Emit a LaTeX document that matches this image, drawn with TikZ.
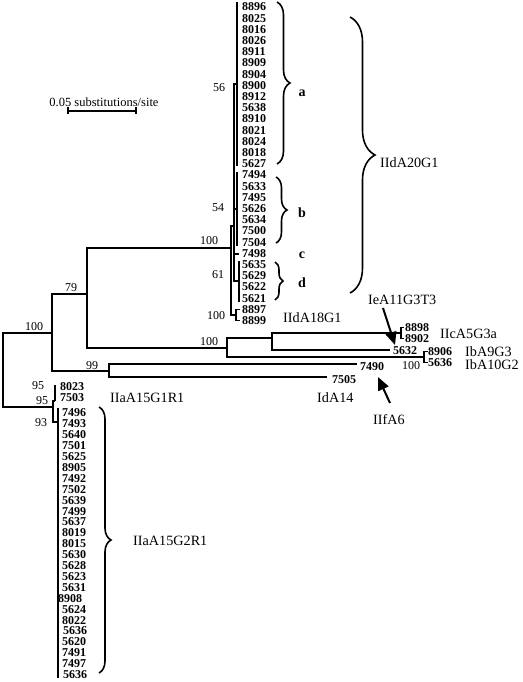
\documentclass[tikz,border=0pt]{standalone}
\usepackage{fontspec}
\setmainfont{Liberation Serif}
\usetikzlibrary{calc}
\usetikzlibrary{positioning}
\usetikzlibrary{arrows.meta}
\usetikzlibrary{decorations.pathreplacing}

\begin{document}
\begin{tikzpicture}[x=1pt,y=-1pt,
  branch/.style={line width=1.8pt},
  cladebar/.style={line width=2.6pt},
  leaf/.style={anchor=west,inner sep=0pt,font=\fontsize{12}{12}\selectfont\bfseries},
  boot/.style={inner sep=0pt,font=\fontsize{12}{12}\selectfont},
  group/.style={anchor=west,inner sep=0pt,font=\fontsize{14.2}{14}\selectfont},
  sub/.style={inner sep=0pt,font=\fontsize{14}{14}\selectfont\bfseries},
  curly/.style={decorate,decoration={brace,amplitude=#1},line width=1.6pt},
  pointer/.style={line width=2pt,-{Triangle[length=13pt,width=11pt]}}]
\useasboundingbox (0,0) rectangle (522,682);

% scale bar
\node[boot,font=\fontsize{12.5}{12}\selectfont] (scale) at (104,102) {0.05 substitutions/site};
\coordinate (sbL) at (67,111);
\coordinate (sbR) at (137,111);
\draw[line width=1.8pt,{Bar[width=7pt]}-{Bar[width=7pt]}] (sbL) -- (sbR);

% internal nodes
\coordinate (root) at (3,370);
\coordinate (n100) at (52,333);
\coordinate (n79) at (87,294);
\coordinate (nIId) at (231,248);
\coordinate (nIId20) at (234,226);
\coordinate (nIId18) at (236,315);
\coordinate (nIIc) at (227,348);
\coordinate (nIeIIc) at (272,338);
\coordinate (nIb) at (424,357);
\coordinate (n99) at (109,371);
\coordinate (nIIa) at (53,407);
\coordinate (nIIa1) at (55,401);
\coordinate (nIIa2) at (58,422);
% clades and tips
\coordinate (cladeA) at (237,84);
\coordinate (cladeB) at (237,209);
\coordinate (leafC) at (239,254);
\coordinate (cladeD) at (239,281);
\coordinate (tIIc) at (401,333);
\coordinate (t5632) at (390,350);
\coordinate (t7490) at (357,364);
\coordinate (t7505) at (327,377);

\draw[branch] (root) |- (n100) (root) |- (nIIa)
  (n100) |- (n79) (n100) |- (n99)
  (n79) |- (nIId) (n79) |- (nIIc)
  (nIId) |- (nIId20) (nIId) |- (nIId18)
  (nIIc) |- (nIeIIc) (nIIc) |- (nIb)
  (nIeIIc) |- (tIIc) (nIeIIc) |- (t5632)
  (n99) |- (t7490) (n99) |- (t7505)
  (nIIa) |- (nIIa1) (nIIa) |- (nIIa2);
\draw[line width=1.4pt] (nIId20) |- (cladeA) (nIId20) |- (cladeB)
  (nIId20) |- (leafC) (nIId20) |- (cladeD);

% clade bars
\draw[cladebar] (237,2) -- (237,166);
\draw[cladebar] (237,172) -- (237,246);
\draw[line width=1.4pt] (239,261) -- (239,302);
\draw[cladebar] (55,385) -- (55,401);
\draw[branch] (58,408) -- (58,678);
% pairs
\draw[branch] (236,309) -- (236,321);
\draw[line width=1.2pt] (236,309.4) -- (240,309.4) (236,320.6) -- (240,320.6);
\draw[branch] (401,327) -- (401,339);
\draw[line width=1.2pt] (401,327.5) -- (404,327.5) (401,338.5) -- (404,338.5);
\draw[branch] (424,351) -- (424,363);
\draw[line width=1.2pt] (424,351.5) -- (428,351.5) (424,362.5) -- (428,362.5);

% leaf labels
\foreach \lab [count=\i from 0] in {8896,8025,8016,8026,8911,8909,8904,8900,8912,5638,8910,8021,8024,8018,5627,7494,5633,7495,5626,5634,7500,7504,7498,5635,5629,5622,5621,8897,8899}
  \node[leaf] (top\i) at (242,7+11.2*\i) {\lab};
\foreach \lab/\dx [count=\i from 0] in {7496/0,7493/0,5640/0,7501/0,5625/0,8905/0,7492/0,7502/0,5639/0,7499/0,5637/0,8019/0,8015/0,5630/0,5628/0,5623/0,5631/0,8908/-4,5624/0,8022/0,5636/1,5620/0,7491/0,7497/0,5636/1}
  \node[leaf] (bot\i) at (62+\dx,413+10.9*\i) {\lab};
\node[leaf] (l8023) at (60,387) {8023};
\node[leaf] (l7503) at (60,398) {7503};
\node[leaf] (l8898) at (405,327.5) {8898};
\node[leaf] (l8902) at (405,339) {8902};
\node[leaf] (l5632) at (393,351) {5632};
\node[leaf] (l8906) at (428,352) {8906};
\node[leaf] (l5636) at (428,363) {5636};
\node[leaf] (l7490) at (360,367) {7490};
\node[leaf] (l7505) at (332,380) {7505};

% bootstrap values
\node[boot] (bs56) at (219,88) {56};
\node[boot] (bs54) at (218,208) {54};
\node[boot] (bs100d) at (209,241) {100};
\node[boot] (bs61) at (218,275) {61};
\node[boot] (bs100e) at (216,316) {100};
\node[boot] (bs100c) at (209,342) {100};
\node[boot] (bs100r) at (34,327) {100};
\node[boot] (bs79) at (71,288) {79};
\node[boot] (bs99) at (92,366) {99};
\node[boot] (bs95a) at (38,386) {95};
\node[boot] (bs95b) at (42,401) {95};
\node[boot] (bs93) at (41,423) {93};
\node[boot] (bs100b) at (411,366) {100};

% subgroup braces
\draw[curly=13pt] (277,2) -- (277,164);
\draw[curly=11pt] (276,177) -- (276,243);
\draw[curly=8pt] (275,262) -- (275,300);
\node[sub] (subA) at (302,93) {a};
\node[sub] (subB) at (302,213) {b};
\node[sub] (subC) at (302,255) {c};
\node[sub] (subD) at (302,283) {d};

% subtype families
\draw[curly=25pt] (350,17) -- (350,293);
\draw[curly=12pt] (99,407) -- (99,673);
\node[group] (gIIdA20) at (380,163) {IIdA20G1};
\node[group] (gIIdA18) at (283,318) {IIdA18G1};
\node[group] (gIeA) at (368,300) {IeA11G3T3};
\node[group] (gIIcA) at (440,334) {IIcA5G3a};
\node[group] (gIbA9) at (465,352) {IbA9G3};
\node[group] (gIbA10) at (465,365) {IbA10G2};
\node[group] (gIdA) at (317,398) {IdA14};
\node[group] (gIIfA) at (373,420) {IIfA6};
\node[group] (gIIaG1) at (110,398) {IIaA15G1R1};
\node[group] (gIIaG2) at (133,541) {IIaA15G2R1};

% pointers
\coordinate (ieTail) at (383,308);
\coordinate (ieTip) at (395,345);
\draw[pointer] (ieTail) -- (ieTip);
\coordinate (ifTail) at (390,403);
\coordinate (ifTip) at (378,377);
\draw[pointer] (ifTail) -- (ifTip);
\end{tikzpicture}
\end{document}
